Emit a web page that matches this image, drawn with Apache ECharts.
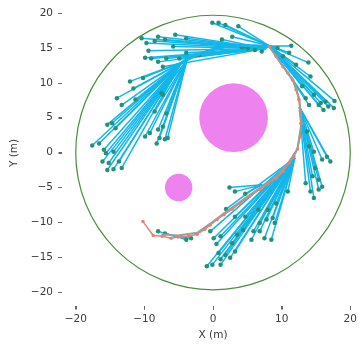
<!DOCTYPE html>
<html>

<head>
    <meta charset="utf-8">
    <script type="text/javascript" src="https://cdn.jsdelivr.net/npm/echarts@6/dist/echarts.min.js"></script>
    <title>Tree</title>
    <style>
        html, body { margin: 0; padding: 0; background: #fff; }
    </style>
</head>

<body>
    <div id="container" style="width:364px;height:349px;"></div>
    <script type="text/javascript">
    // tick labels
    var xTicks = [-20, -10, 0, 10, 20];
    var yTicks = [-20, -15, -10, -5, 0, 5, 10, 15, 20];

    // workspace boundary and obstacles: [x, y, r]
    var boundary = [[0, 0, 20]];
    var obstacles = [[3, 5, 5], [-5, -5, 2]];

    // travelled path
    var pathPts = [[-10.2, -9.9], [-8.7, -11.9], [-7.4, -12.0], [-6.1, -12.3], [-5.1, -12.1], [-3.6, -12.0],
        [-2.3, -11.7], [-1.2, -11.0], [-0.4, -10.4], [0.6, -9.6], [1.6, -8.9], [2.8, -8.1], [3.9, -7.3],
        [5.3, -6.3], [6.8, -5.3], [8.0, -4.5], [9.2, -3.7], [10.2, -2.7], [11.1, -1.5], [11.8, -0.6],
        [12.3, 0.5], [12.7, 2.3], [12.8, 4.2], [12.7, 6.0], [12.5, 7.6], [12.1, 9.0], [11.6, 10.4],
        [10.9, 11.4], [10.2, 12.3], [9.2, 13.8], [8.2, 15.2]];

    // reference path (grey)
    var refPts = [[-7.5, -11.7], [-5.1, -11.9], [-2.3, -11.5], [-0.4, -10.2], [1.6, -8.7], [3.9, -7.1],
        [6.8, -5.1], [9.2, -3.5], [11.1, -1.3], [12.3, 0.5], [12.9, 4.2], [12.6, 7.6], [11.7, 10.4],
        [10.2, 12.3], [8.2, 15.2]];

    // hub chain along the top
    var topChain = [[8.2, 15.2], [6, 15.3], [3.5, 15.4], [1, 15.0], [-1.5, 14.3], [-3.8, 13.3], [-4.6, 12.9]];

    // fans: origin + end points
    var fanA0 = [11.9, -0.8];
    var fanA = [[1.9, -8.1], [-0.4, -11.3], [0.1, -12.3], [0.5, -13.1], [1.1, -12.0], [0.8, -14.4], [1.1, -15.3],
        [-0.9, -16.3], [-0.1, -16.1], [1.1, -16.1], [2.5, -15.1], [1.8, -14.7], [3.2, -14.2], [2.8, -13.0],
        [3.5, -11.8], [4.4, -11.1], [5.6, -12.5], [5.9, -11.3], [6.8, -11.3], [7.5, -12.3], [8.5, -12.5],
        [6.8, -10.1], [7.8, -9.6], [9.0, -10.1], [8.7, -9.4], [6.6, -8.2], [8.0, -8.2], [9.2, -7.3],
        [10.9, -5.6], [4.7, -9.2], [3.2, -9.2]];
    var fanB0 = [7.2, -4.6];
    var fanB = [[2.4, -5.0], [3.2, -5.6], [4.7, -5.9]];
    var fanC0 = [-5.1, -12.1];
    var fanC = [[-8.0, -11.3], [-7.0, -11.6], [-3.9, -12.5], [-3.2, -12.3]];
    var fanD0 = [12.6, 6.5];
    var fanD = [[13.7, 3.0], [14.0, 0.9], [14.7, 0.1], [15.9, -1.0], [16.6, -0.6], [17.1, -1.3], [14.9, -2.2],
        [15.4, -3.9], [15.9, -4.9], [14.5, -3.4], [14.2, -5.6], [14.7, -6.5], [15.4, -5.3], [13.5, -4.4]];
    var fanE0 = [8.2, 15.3];
    var fanE = [[11.4, 15.3], [13.9, 12.9], [14.2, 10.9], [14.7, 8.3], [15.7, 7.1], [16.4, 7.3], [17.7, 7.4],
        [17.6, 6.4], [16.8, 6.6], [16.1, 6.1], [15.4, 6.8], [14.0, 6.8], [11.1, 14.3], [12.1, 12.6],
        [9.4, 15.0], [10.2, 13.8], [13.0, 9.5], [13.5, 7.8], [-0.1, 18.6], [0.8, 18.6], [1.8, 18.3],
        [3.7, 18.1], [2.8, 16.6], [4.7, 15.2], [6.1, 14.7], [7.1, 14.5]];
    var fanF0 = [7.6, 14.9];
    var fanF = [[-10.4, 16.4], [-9.7, 15.7], [-8.0, 16.6], [-8.5, 16.0], [-5.8, 15.2], [-3.9, 16.4], [-9.4, 14.6],
        [-9.9, 13.6], [-9.0, 13.5], [-8.0, 13.0], [-6.8, 13.5], [-4.9, 13.5], [-7.3, 12.3], [-3.9, 14.3],
        [-2.0, 14.0], [1.3, 16.2], [4.2, 15.1], [5.1, 14.9], [-5.5, 16.9], [-7.0, 16.2]];
    var fanG0 = [-4.6, 12.9];
    var fanG = [[-12.1, 10.2], [-10.2, 10.7], [-11.6, 9.2], [-14.0, 7.8], [-13.3, 6.8], [-11.3, 7.6], [-7.3, 8.3],
        [-15.4, 4.0], [-14.2, 3.5], [-14.7, 4.2], [-17.6, 1.0], [-16.6, 1.3], [-15.9, 0.4], [-15.6, -0.1],
        [-16.1, -1.3], [-15.2, -1.5], [-15.4, -2.5], [-14.5, -2.4], [-13.3, -2.2], [-13.7, -1.3], [-14.5, 0.1]];
    var fanH0 = [-3.8, 13.3];
    var fanH = [[-9.9, 2.3], [-9.2, 2.8], [-8.2, 1.3], [-7.8, 2.1], [-7.0, 1.9], [-6.6, 2.1], [-8.0, 3.3],
        [-7.3, 3.7], [-6.8, 5.6], [-7.5, 8.5], [-8.5, 5.9]];

    var fans = [[fanA0, fanA], [fanB0, fanB], [fanC0, fanC], [fanD0, fanD],
        [fanE0, fanE], [fanF0, fanF], [fanG0, fanG], [fanH0, fanH]];

    // build segments and end points
    var segments = [];
    var ends = [];
    fans.forEach(function(f) {
        f[1].forEach(function(p) {
            segments.push({ coords: [f[0], p] });
            ends.push(p);
        });
    });

    var textColor = '#3a3a3a';
    var tickColor = '#666';
    var tickLen = 3.5;
    var font = 'DejaVu Sans';

    function minus(v) {
        return v < 0 ? '\u2212' + Math.abs(v) : String(v);
    }

    function circleItem(fill, stroke, width) {
        return function(params, api) {
            var c = api.coord([api.value(0), api.value(1)]);
            var r = api.size([api.value(2), 0])[0];
            return {
                type: 'circle',
                shape: { cx: c[0], cy: c[1], r: r },
                style: { fill: fill, stroke: stroke, lineWidth: width }
            };
        };
    }

    // tick marks just outside the bottom / left edge of the grid
    function xTickItem(params, api) {
        var cs = params.coordSys;
        var x = Math.round(api.coord([api.value(0), api.value(1)])[0]) + 0.5;
        var y = cs.y + cs.height;
        return { type: 'line', shape: { x1: x, y1: y, x2: x, y2: y + tickLen }, style: { stroke: tickColor, lineWidth: 1 }, z2: 100 };
    }

    function yTickItem(params, api) {
        var cs = params.coordSys;
        var y = Math.round(api.coord([api.value(0), api.value(1)])[1]) + 0.5;
        var x = cs.x;
        return { type: 'line', shape: { x1: x, y1: y, x2: x - tickLen, y2: y }, style: { stroke: tickColor, lineWidth: 1 }, z2: 100 };
    }

    var myChart = echarts.init(document.getElementById('container'));

    var option = {
        animation: false,
        grid: { left: 62, top: 0, width: 307, height: 306 },
        xAxis: {
            type: 'value',
            min: -22,
            max: 22,
            axisLine: { show: false, onZero: false },
            splitLine: { show: false },
            axisTick: { show: true, customValues: xTicks, length: tickLen, lineStyle: { color: tickColor } },
            axisLabel: { customValues: xTicks, formatter: minus, margin: 8, color: textColor, fontSize: 10.5, fontFamily: font },
            name: 'X (m)',
            nameLocation: 'middle',
            nameGap: 24,
            nameTextStyle: { color: textColor, fontSize: 10.5, fontFamily: font }
        },
        yAxis: {
            type: 'value',
            min: -22,
            max: 21.87,
            axisLine: { show: false, onZero: false },
            splitLine: { show: false },
            axisTick: { show: true, customValues: yTicks, length: tickLen, lineStyle: { color: tickColor } },
            axisLabel: { customValues: yTicks, formatter: minus, margin: 9, color: textColor, fontSize: 10.5, fontFamily: font },
            name: 'Y (m)',
            nameLocation: 'middle',
            nameGap: 39,
            nameTextStyle: { color: textColor, fontSize: 10.5, fontFamily: font }
        },
        series: [{
            type: 'custom',
            renderItem: xTickItem,
            data: xTicks.map(function(v) { return [v, 0]; }),
            clip: false,
            silent: true,
            z: 10
        }, {
            type: 'custom',
            renderItem: yTickItem,
            data: yTicks.map(function(v) { return [0, v]; }),
            clip: false,
            silent: true,
            z: 10
        }, {
            // boundary circle
            type: 'custom',
            renderItem: circleItem('none', '#4a8f3c', 1.2),
            data: boundary,
            silent: true
        }, {
            // obstacles
            type: 'custom',
            renderItem: circleItem('#ee82ee', 'none', 0),
            data: obstacles,
            silent: true
        }, {
            // hub chain band
            type: 'line',
            data: topChain,
            symbol: 'none',
            smooth: true,
            lineStyle: { color: '#12b6ea', width: 3 }
        }, {
            // sampled branches
            type: 'lines',
            coordinateSystem: 'cartesian2d',
            data: segments,
            lineStyle: { color: '#12b6ea', width: 1.5, opacity: 1, curveness: 0 }
        }, {
            // branch end points
            type: 'scatter',
            data: ends,
            symbolSize: 4.5,
            itemStyle: { color: '#23927a', opacity: 1 }
        }, {
            // travelled path
            type: 'line',
            data: pathPts,
            symbol: 'circle',
            symbolSize: 3.5,
            itemStyle: { color: '#de8675' },
            lineStyle: { color: '#de8675', width: 1.5 }
        }, {
            // reference path
            type: 'line',
            data: refPts,
            symbol: 'none',
            lineStyle: { color: '#9c9c9c', width: 2 }
        }]
    };

    myChart.setOption(option);
    </script>
</body>

</html>
